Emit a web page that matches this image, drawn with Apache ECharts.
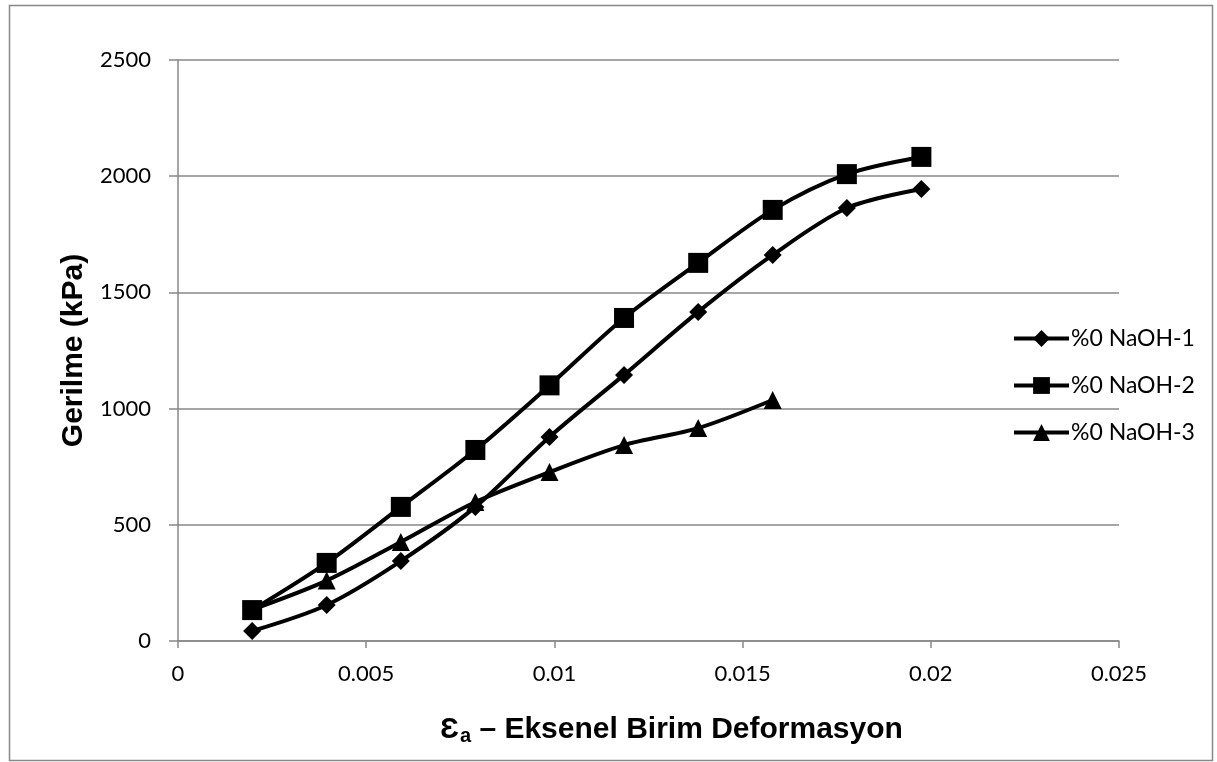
<!DOCTYPE html>
<html><head><meta charset="utf-8">
<script src="https://cdn.jsdelivr.net/npm/echarts@6/dist/echarts.min.js"></script>
<style>html,body{margin:0;padding:0;background:#fff}#c{width:1217px;height:762px}</style>
</head><body><div id="c"></div>
<script>
var strain1 = [0.00197, 0.00395, 0.00592, 0.0079, 0.00987, 0.01185, 0.01382, 0.0158, 0.01777, 0.01975];
var stress1 = [43, 155, 344, 577, 878, 1145, 1416, 1661, 1863, 1945];
var strain2 = [0.00197, 0.00395, 0.00592, 0.0079, 0.00987, 0.01185, 0.01382, 0.0158, 0.01777, 0.01975];
var stress2 = [133, 336, 577, 822, 1100, 1390, 1627, 1855, 2009, 2083];
var strain3 = [0.00197, 0.00395, 0.00592, 0.0079, 0.00987, 0.01185, 0.01382, 0.0158];
var stress3 = [135, 260, 426, 598, 727, 843, 916, 1037];
var seriesNames = ['%0 NaOH-1', '%0 NaOH-2', '%0 NaOH-3'];
var symbols = ['diamond', 'rect', 'triangle'];
var symbolSizes = [18, 20, 18];

function zip(a, b) { return a.map(function (v, i) { return [v, b[i]]; }); }
var datasets = [zip(strain1, stress1), zip(strain2, stress2), zip(strain3, stress3)];

var chart = echarts.init(document.getElementById('c'), null, { renderer: 'canvas' });
var tickFont = { fontFamily: 'Lato, "Open Sans", sans-serif', fontSize: 22, color: '#000' };
var titleFont = '"Liberation Sans", Arial, sans-serif';
chart.setOption({
  animation: false,
  backgroundColor: '#fff',
  graphic: [{
    type: 'rect', left: 7, top: 3, z: -1,
    shape: { width: 1203, height: 755 },
    style: { fill: 'none', stroke: '#888', lineWidth: 1.5 }
  }],
  grid: { left: 178, right: 98, top: 60, bottom: 121, containLabel: false },
  legend: {
    orient: 'vertical', left: 1007, top: 322, itemGap: 24,
    itemWidth: 55, itemHeight: 21,
    lineStyle: { width: 4, color: '#000' },
    textStyle: { fontFamily: 'Lato, "Open Sans", sans-serif', fontSize: 23, color: '#000', padding: [0, 0, 0, -3] },
    data: seriesNames
  },
  xAxis: {
    type: 'value', min: 0, max: 0.025, interval: 0.005,
    name: '{e|Ɛ}{s|a}{t| – Eksenel Birim Deformasyon}',
    nameLocation: 'middle', nameGap: 73,
    nameTextStyle: {
      padding: [0, 0, 0, 46],
      rich: {
        e: { fontFamily: titleFont, fontWeight: 'bold', fontSize: 30, color: '#000' },
        s: { fontFamily: titleFont, fontWeight: 'bold', fontSize: 20, color: '#000', padding: [12, 0, 0, 1] },
        t: { fontFamily: titleFont, fontWeight: 'bold', fontSize: 30, color: '#000' }
      }
    },
    axisLine: { show: true, onZero: false, lineStyle: { color: '#888', width: 1.5 } },
    axisTick: { show: true, length: 7, lineStyle: { color: '#888', width: 1.5 } },
    axisLabel: Object.assign({ margin: 22, formatter: function (v) { return String(+v.toFixed(3)); } }, tickFont),
    splitLine: { show: false }
  },
  yAxis: {
    type: 'value', min: 0, max: 2500, interval: 500,
    name: 'Gerilme (kPa)', nameLocation: 'middle', nameGap: 72,
    nameTextStyle: { fontFamily: titleFont, fontWeight: 'bold', fontSize: 30, color: '#000' },
    axisLine: { show: true, lineStyle: { color: '#888', width: 1.5 } },
    axisTick: { show: true, length: 9, lineStyle: { color: '#888', width: 1.5 } },
    axisLabel: Object.assign({ margin: 27, formatter: function (v) { return String(v); } }, tickFont),
    splitLine: { show: true, lineStyle: { color: '#888', width: 1.5 } }
  },
  series: datasets.map(function (d, i) {
    return {
      name: seriesNames[i], type: 'line', data: d,
      smooth: 0.3, symbol: symbols[i], symbolSize: symbolSizes[i],
      showAllSymbol: true,
      lineStyle: { color: '#000', width: 4 },
      itemStyle: { color: '#000' }
    };
  })
});
</script></body></html>
